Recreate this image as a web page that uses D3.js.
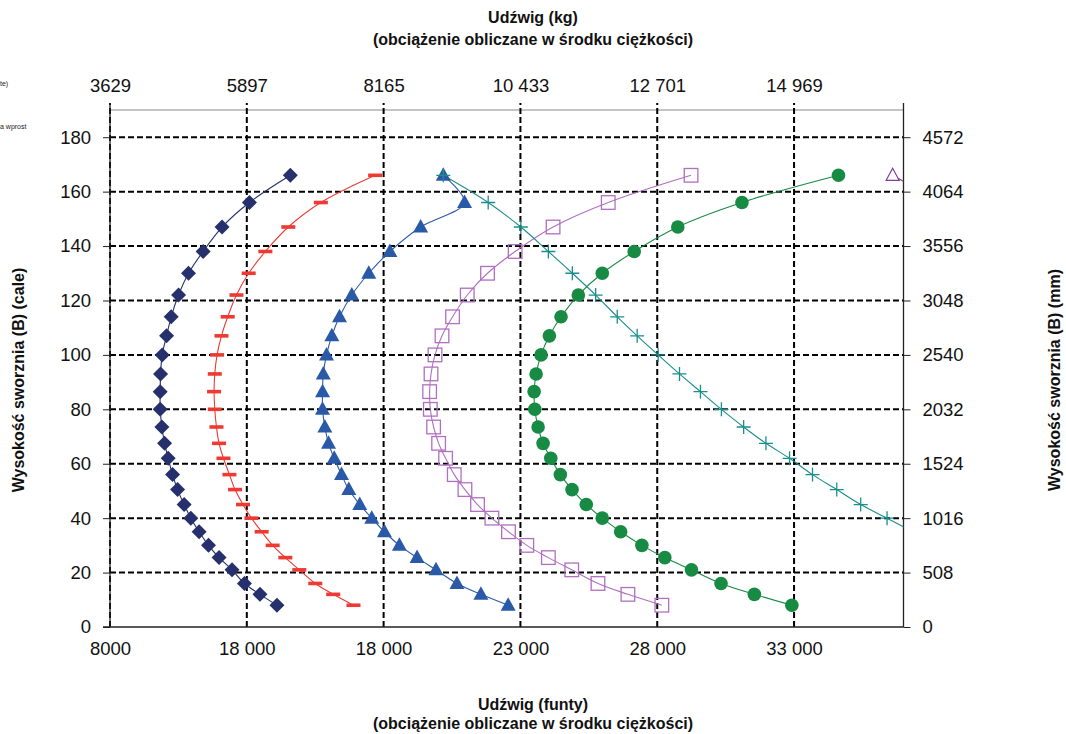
<!DOCTYPE html>
<html><head><meta charset="utf-8">
<script src="https://cdn.jsdelivr.net/npm/d3@7"></script>
<style>body{margin:0;background:#fff;} svg{display:block;font-family:"Liberation Sans",Arial,sans-serif;}</style>
</head><body>
<svg id="c" width="1066" height="734"></svg>
<script>
// heights (inches), shared by all series
const heights = [166,156,147,138,130,122,114,107,100,93,86.5,80,73.5,67.5,62,56,50.5,45,40,35,30,25.5,21,16,12,8];
const navyDiamonds = [14590,13095,12096,11403,10870,10505,10236,10068,9907,9849,9834,9834,9896,9995,10126,10287,10469,10710,10954,11257,11600,11986,12460,12913,13481,14101];
const redDashes = [17690,15706,14517,13678,13069,12621,12303,12074,11913,11829,11804,11829,11891,11986,12147,12365,12570,12861,13168,13543,13945,14408,14918,15502,16158,16899];
const blueTriangles = [20181,20958,19353,18230,17457,16837,16388,16107,15914,15794,15768,15768,15852,15987,16195,16461,16727,17128,17566,18029,18576,19222,19915,20681,21556,22552];
const purpleSquares = [29236,26209,24193,22807,21797,21056,20520,20134,19878,19732,19681,19707,19827,20010,20265,20582,20972,21432,21957,22563,23233,24021,24875,25834,26928,28168];
const greenCircles = [34623,31096,28751,27158,25991,25116,24484,24058,23755,23573,23500,23525,23646,23828,24109,24459,24886,25407,25991,26662,27439,28277,29251,30331,31549,32920];
const tealHeights = [166,156,147,138,130,122,114,107,100,93,86.5,80,73.5,67.5,62,56,50.5,45,40,35];
const tealPluses = [20181,21822,23015,24021,24897,25750,26538,27267,28033,28813,29579,30345,31158,31972,32836,33675,34561,35436,36399,37350];
const violetHeights = [166,156,147];
const violetTriangles = [36603,38300,39500];

const lbTickValues = [8000,13000,18000,23000,28000,33000];
const lbTickLabels = ["8000","18 000","18 000","23 000","28 000","33 000"];
const kgTickLabels = ["3629","5897","8165","10 433","12 701","14 969"];
const inchTickValues = [0,20,40,60,80,100,120,140,160,180];
const mmTickLabels = ["0","508","1016","1524","2032","2540","3048","3556","4064","4572"];
const legendFragments = ["te)","a wprost"];

const svg = d3.select("#c");
const L=110, R=903.5, T=110, B=627;
const x = d3.scaleLinear().domain([8000,37000]).range([L,R]);
const y = d3.scaleLinear().domain([0,190]).range([B,T]);

svg.append("defs").append("clipPath").attr("id","plotclip")
  .append("rect").attr("x",L).attr("y",T-2).attr("width",R-L).attr("height",B-T+4);

// top border
svg.append("line").attr("x1",L).attr("x2",R).attr("y1",T).attr("y2",T).attr("stroke","#8a8a8a").attr("stroke-width",1.2);

// grid
const grid = svg.append("g");
inchTickValues.filter(v=>v>0).forEach(v=>{
  grid.append("line").attr("x1",L).attr("x2",R).attr("y1",y(v)).attr("y2",y(v))
    .attr("stroke","#000").attr("stroke-width",2).attr("stroke-dasharray","6,3");
});
lbTickValues.forEach(v=>{
  grid.append("line").attr("x1",x(v)).attr("x2",x(v)).attr("y1",B).attr("y2",T-7)
    .attr("stroke","#000").attr("stroke-width",2).attr("stroke-dasharray","6,3");
});

// axes
const fs = "18.5px";
const axL = d3.axisLeft(y).tickValues(inchTickValues).tickSize(7).tickPadding(12).tickFormat(d3.format("d"));
const gL = svg.append("g").attr("transform",`translate(${L},0)`).call(axL);
const axR = d3.axisRight(y).tickValues(inchTickValues).tickSize(7).tickPadding(12).tickFormat((d,i)=>mmTickLabels[i]);
const gR = svg.append("g").attr("transform",`translate(${R},0)`).call(axR);
const axB = d3.axisBottom(x).tickValues(lbTickValues).tickSize(0).tickPadding(15).tickFormat((d,i)=>lbTickLabels[i]);
const gB = svg.append("g").attr("transform",`translate(0,${B})`).call(axB);
const axT = d3.axisTop(x).tickValues(lbTickValues).tickSize(0).tickPadding(18).tickFormat((d,i)=>kgTickLabels[i]);
const gT = svg.append("g").attr("transform",`translate(0,${T})`).call(axT);
[gL,gR,gB,gT].forEach(g=>{
  g.selectAll("text").attr("font-size",fs).attr("fill","#111").attr("font-family","Liberation Sans, Arial, sans-serif");
  g.selectAll("line").attr("stroke","#222");
  g.select(".domain").attr("stroke","#222").attr("stroke-width",1.3);
});
gT.select(".domain").remove();
gL.select(".domain").attr("d",`M0,${B}V${T-7}`);
gR.select(".domain").attr("d",`M0,${B}V${T-7}`);
gB.select(".domain").attr("d",`M${L-7},0H${R}`);

// series
const plot = svg.append("g").attr("clip-path","url(#plotclip)");
const line = d3.line().curve(d3.curveCatmullRom.alpha(0.5));
function pts(vals,hs){ return vals.map((v,i)=>[x(v),y(hs[i])]); }

function drawSeries(vals,hs,color,width){
  plot.append("path").attr("d",line(pts(vals,hs))).attr("fill","none").attr("stroke",color).attr("stroke-width",width);
}
const navy="#25306c", red="#ee3a32", blue="#2a5aa7", purple="#b06fc0", green="#178a43", teal="#1a8e8a", violet="#7e3c9c";

drawSeries(navyDiamonds,heights,navy,1.1);
drawSeries(redDashes,heights,red,1.1);
drawSeries(blueTriangles,heights,blue,1.1);
drawSeries(purpleSquares,heights,purple,1.1);
drawSeries(greenCircles,heights,green,1.1);
drawSeries(tealPluses,tealHeights,teal,1.1);
drawSeries(violetTriangles,violetHeights,violet,1.1);

const mk = svg.append("g").attr("clip-path","url(#plotclip)");
pts(navyDiamonds,heights).forEach(p=>mk.append("path").attr("transform",`translate(${p})`).attr("d","M0,-7.5L7.5,0L0,7.5L-7.5,0Z").attr("fill",navy));
pts(redDashes,heights).forEach(p=>mk.append("rect").attr("x",p[0]-7).attr("y",p[1]-1.8).attr("width",14).attr("height",3.6).attr("fill",red));
pts(blueTriangles,heights).forEach(p=>mk.append("path").attr("transform",`translate(${p})`).attr("d","M0,-8L7.5,5.5L-7.5,5.5Z").attr("fill",blue));
pts(purpleSquares,heights).forEach(p=>mk.append("rect").attr("x",p[0]-6.8).attr("y",p[1]-6.8).attr("width",13.6).attr("height",13.6).attr("fill","none").attr("stroke",purple).attr("stroke-width",1.3));
pts(greenCircles,heights).forEach(p=>mk.append("circle").attr("cx",p[0]).attr("cy",p[1]).attr("r",6.8).attr("fill",green));
pts(tealPluses,tealHeights).forEach(p=>mk.append("path").attr("transform",`translate(${p})`).attr("d","M-7,0H7M0,-7V7").attr("stroke",teal).attr("stroke-width",1.3).attr("fill","none"));
pts(violetTriangles,violetHeights).forEach(p=>mk.append("path").attr("transform",`translate(${p})`).attr("d","M0,-7L6.5,5L-6.5,5Z").attr("fill","#fff").attr("stroke",violet).attr("stroke-width",1.2));

// titles
const tt = svg.append("g").attr("font-weight","bold").attr("font-size","16px").attr("fill","#111").attr("text-anchor","middle");
tt.append("text").attr("x",533).attr("y",23).text("Udźwig (kg)");
tt.append("text").attr("x",533).attr("y",45).text("(obciążenie obliczane w środku ciężkości)");
tt.append("text").attr("x",533).attr("y",710).text("Udźwig (funty)");
tt.append("text").attr("x",533).attr("y",729).text("(obciążenie obliczane w środku ciężkości)");
tt.append("text").attr("transform","translate(24,380) rotate(-90)").text("Wysokość sworznia (B) (cale)");
tt.append("text").attr("transform","translate(1060,380) rotate(-90)").text("Wysokość sworznia (B) (mm)");

// clipped legend fragments
svg.append("text").attr("x",0).attr("y",86).attr("font-size","7px").attr("fill","#222").text(legendFragments[0]);
svg.append("text").attr("x",0).attr("y",129).attr("font-size","7px").attr("fill","#222").text(legendFragments[1]);
</script>
</body></html>
